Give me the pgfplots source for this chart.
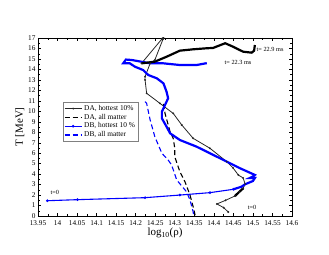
\documentclass[border=0pt]{standalone}
\usepackage{fontspec}
\setmainfont{Liberation Serif}
\usepackage{pgfplots}
\pgfplotsset{compat=1.18}
\begin{document}
\begin{tikzpicture}
\begin{axis}[
  at={(0,0)}, anchor=south west,
  scale only axis, width=254bp, height=178bp,
  xmin=13.95, xmax=14.6, ymin=0, ymax=17,
  xtick={13.95,14,14.05,14.1,14.15,14.2,14.25,14.3,14.35,14.4,14.45,14.5,14.55,14.6},
  xticklabels={13.95,14,14.05,14.1,14.15,14.2,14.25,14.3,14.35,14.4,14.45,14.5,14.55,14.6},
  ytick={0,1,...,17},
  minor x tick num=1, minor y tick num=1,
  tick style={black, line width=0.4pt},
  major tick length=3bp, minor tick length=1.6bp,
  /pgf/number format/assume math mode=true,
  tick label style={font=\fontsize{7.3}{8}\selectfont},
  xticklabel style={yshift=-0.8bp},
  yticklabel style={xshift=1bp},
  axis line style={line width=0.6pt},
  xlabel={log\textsubscript{10}(ρ)},
  ylabel={T [MeV]},
  xlabel style={font=\fontsize{11}{12}\selectfont, yshift=4bp},
  ylabel style={font=\fontsize{11}{12}\selectfont, yshift=-3bp},
  legend style={at={(0.098,0.64)}, anchor=north west, font=\fontsize{7.4}{8}\selectfont,
    draw=gray, line width=0.4pt, inner sep=1pt, row sep=-1.8pt, cells={anchor=west}},
  clip=true,
]
% DA hottest 10%
\addplot[black!85, line width=0.8pt, mark=*, mark size=0.5pt] coordinates {
(14.437,0.38) (14.425,0.8) (14.408,1.15) (14.43,1.5) (14.454,1.91) (14.465,2.3)
(14.475,2.64) (14.48,3.06) (14.475,3.63) (14.4625,3.92) (14.449,4.6) (14.433,5.19)
(14.39,6.47) (14.347,7.42) (14.318,8.69) (14.296,9.8) (14.262,10.76) (14.228,11.72)
(14.224,13.0) (14.224,13.3) (14.237,14.58) (14.249,14.9) (14.27,16.9) (14.275,17.3)
(14.268,16.95) (14.215,14.58)
};
\addlegendentry{DA, hottest 10\%}
% DA all matter
\addplot[black, line width=1.1pt, dash pattern=on 5pt off 3pt] coordinates {
(14.271,10.7) (14.275,9.81) (14.288,8.05) (14.296,7.42) (14.300,6.47) (14.300,5.66)
(14.313,4.23) (14.326,3.28) (14.339,2.0) (14.347,0.89) (14.352,0.1) (14.353,-0.2)
};
\addlegendentry{DA, all matter}
% DB hottest 10% (thin start)
\addplot[blue, line width=1.1pt, mark=*, mark size=0.7pt] coordinates {
(13.974,1.46) (14.051,1.56) (14.224,1.75) (14.313,2.0) (14.390,2.23) (14.450,2.55)
};
\addlegendentry{DB, hottest 10 \%}
% DB all matter
\addplot[blue, line width=1.1pt, dash pattern=on 5pt off 3pt] coordinates {
(14.224,10.92) (14.228,10.76) (14.237,9.17) (14.249,7.57) (14.267,5.99) (14.283,5.35)
(14.292,4.87) (14.305,3.44) (14.330,2.32) (14.339,1.53) (14.347,0.41) (14.349,-0.2)
};
\addlegendentry{DB, all matter}
% DB thick continuation
\addplot[blue, line width=2.2pt, forget plot] coordinates {
(14.450,2.55) (14.471,2.80) (14.480,3.03) (14.500,3.34) (14.505,3.63) (14.492,3.63)
(14.500,3.77) (14.505,3.92) (14.467,4.56) (14.416,5.51) (14.390,5.99) (14.356,6.62)
(14.313,7.26) (14.288,7.90) (14.279,8.53) (14.267,9.33) (14.267,9.96) (14.275,10.60)
(14.283,11.24) (14.279,11.87) (14.271,12.67) (14.254,13.15) (14.232,13.47) (14.219,13.94)
(14.198,14.26) (14.185,14.58) (14.168,14.58) (14.175,14.94) (14.190,14.9) (14.237,14.58)
(14.271,14.58) (14.313,14.42) (14.356,14.42) (14.382,14.6)
};
% DA thick parts
\addplot[black, line width=2.2pt, forget plot] coordinates {
(14.454,1.91) (14.465,2.3) (14.475,2.64)
};
\addplot[black, line width=2.2pt, forget plot] coordinates {
(14.215,14.58) (14.249,14.74) (14.279,15.21) (14.313,15.79) (14.347,15.92) (14.382,16.02)
(14.398,16.05) (14.429,16.5) (14.449,16.17) (14.475,15.69) (14.497,15.6) (14.503,15.79) (14.505,16.33)
};
\node[font=\fontsize{6.3}{7}\selectfont, anchor=west, inner sep=0.5pt] at (axis cs:14.508,15.95) {t= 22.9 ms};
\node[font=\fontsize{6.3}{7}\selectfont, inner sep=0.5pt] at (axis cs:14.462,14.7) {t= 22.3 ms};
\node[font=\fontsize{6.3}{7}\selectfont, inner sep=0.5pt] at (axis cs:14.498,0.8) {t=0};
\node[font=\fontsize{6.3}{7}\selectfont, inner sep=0.5pt] at (axis cs:13.993,2.25) {t=0};
\end{axis}
\useasboundingbox (-38bp,-39bp) rectangle (291bp,216bp);
\end{tikzpicture}
\end{document}
